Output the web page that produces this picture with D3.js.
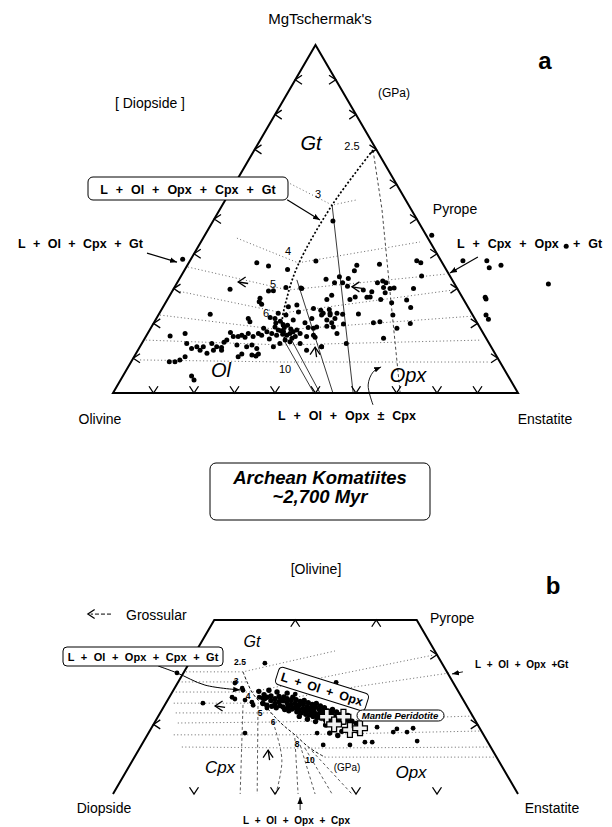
<!DOCTYPE html>
<head>
  <meta charset="utf-8">
  <script src="https://d3js.org/d3.v7.min.js"></script>
  <style>
    body { margin:0; background:white; }
    text { font-family: 'Liberation Sans', Arial, sans-serif; fill: black; }
    .lab { font-size: 14px; }
    .phase { font-weight: bold; }
    .field { font-style: italic; font-size: 20px; }
    .press { font-size: 11px; }
  </style>
</head>
<body>
<script>
// ---------- data: positions in % of triangle base (x) and % of full height (y) ----------

// panel a : projection from Diopside
const triA = [[0,0],[50,100],[100,0]];
const komA = [
  [17.2,38.4],[35.5,37.4],[38.4,36.5],[43.1,35.5],[50.1,37.9],[54.3,49.4],[28.9,29.8],[36.3,27.2],[36.1,26.2],
  [38.4,29.3],[39.6,29.4],[42.7,30.3],[46.4,30.2],[24.0,22.6],[33.4,21.4],[33.8,20.5],[36.7,25.5],[38.8,21.7],
  [40.8,22.9],[42.7,22.4],[43.3,24.8],[45.4,25.3],[45.8,23.3],[44.5,21.0],[14.1,16.4],[17.8,17.1],[18.2,14.2],
  [20.7,13.3],[22.3,13.3],[24.4,14.2],[25.6,13.3],[26.8,13.1],[28.1,15.2],[29.7,16.2],[30.9,16.2],[31.8,16.6],
  [33.4,17.1],[34.6,16.2],[35.9,17.1],[38.0,17.6],[40.0,19.0],[40.8,18.1],[42.1,17.6],[42.9,16.6],[44.5,17.6],
  [46.2,17.1],[47.8,16.2],[50.3,19.0],[51.9,22.9],[53.6,22.4],[54.4,19.0],[19.4,12.8],[21.5,12.3],[30.6,13.8],
  [33.0,13.3],[35.5,12.8],[39.6,13.3],[42.5,15.2],[45.0,16.2],[51.5,13.3],[13.9,9.0],[15.3,9.0],[16.5,9.5],
  [17.8,10.4],[30.9,10.4],[31.8,11.2],[34.3,10.9],[35.3,10.6],[35.9,11.2],[19.4,4.9],[20.0,3.7],[41.2,14.2],
  [43.7,14.7],[32.6,16.0],[36.7,16.6],[39.2,17.1],[43.7,17.1],[45.4,18.1],[43.1,19.5],[52.8,21.0],[55.3,17.1],
  [34.3,13.8],[26.8,12.3],[24.8,12.3],[47.8,12.3],[46.2,14.2],[40.0,21.4],[41.5,17.9],[42.3,18.8],[43.9,18.4],
  [41.9,16.9],[44.2,15.7],[40.4,16.6],[37.2,18.6],[38.6,15.5],[29.0,17.4],[27.4,14.6],[23.2,11.4],[40.2,20.1],
  [41.3,20.6],[42.0,19.7],
  [78.7,45.3],[86.4,38.0],[92.3,38.0],[92.9,36.0],[95.8,36.7],[107.5,31.3],[91.9,27.5],[92.1,27.0],[92.1,22.4],
  [92.7,21.2],[60.2,36.7],[59.6,35.1],[65.8,37.0],[75.0,38.0],[76.0,37.4],[76.2,33.6],[52.6,32.7],[54.7,31.7],
  [55.9,33.4],[56.7,31.7],[58.1,32.9],[57.9,30.7],[61.8,29.6],[65.3,31.7],[66.6,32.2],[67.4,31.7],[66.8,30.3],
  [68.4,30.0],[69.4,30.2],[67.2,28.8],[63.9,29.1],[63.5,27.6],[74.2,30.0],[72.5,26.7],[73.5,24.6],[68.8,25.9],
  [69.1,22.4],[66.1,26.9],[62.7,27.5],[59.8,27.6],[58.5,26.9],[54.0,28.1],[52.8,26.9],[49.5,24.3],[51.3,23.8],
  [53.4,24.0],[53.6,22.9],[55.3,22.9],[56.7,22.6],[54.8,21.4],[54.0,20.2],[52.8,19.2],[51.5,22.4],[49.1,21.4],
  [47.4,20.2],[48.2,18.8],[49.5,16.6],[49.9,16.0],[51.5,13.3],[56.9,19.8],[60.6,22.7],[64.3,20.2],[65.9,20.5],
  [70.1,18.6],[66.8,15.7],[73.4,20.0],[57.6,14.2],[46.6,30.0],[49.5,18.6],[111.9,42.2]
];
// isobars (GPa), dotted
const isobarsA = [
  [[43.0,60.6],[54.1,54.0],[60.2,55.5]],
  [[30.6,44.5],[45.7,37.4],[75.8,43.4]],
  [[18.5,36.2],[43.2,29.6],[82.5,34.2]],
  [[14.8,29.6],[42.0,23.0],[84.0,29.6]],
  [[11.6,22.4],[41.7,18.1],[88.9,22.1]],
  [[8.1,15.2],[42.0,13.8],[90.9,15.2]],
  [[6.7,9.5],[42.5,8.9],[92.6,8.9]]
];
const cotecticA = [[64.2,69.8],[54.1,54.0],[45.7,36.8],[43.0,27.6],[41.7,19.5],[42.5,15.2]];
const dashedA = [[[64.2,69.8],[66.4,52.9],[68.6,26.7],[70.9,0]]];
const solidA = [
  [[54.1,54.0],[59.3,0]],
  [[45.4,32.5],[54.3,0]],
  [[42.2,15.2],[49.6,0]],
  [[43.7,16.1],[51.1,0]]
];
const hookA = [[64.2,-3.4],[63.0,2.3],[64.2,6.0],[66.2,7.5]];
const leadersA = [
  [[43.0,55.5],[51.1,49.7]],
  [[8.4,40.2],[15.8,37.6]],
  [[90.1,39.1],[83.2,34.5]]
];
const fieldArrowsA = [[30.9,31.9,'left'],[49.9,13.2,'up'],[59.0,30.5,'left']];
const ticksA = [10,20,30,40,50,60,70,80,90];

// panel b : projection from Olivine
const trapB = [[0,0],[25,50],[75,50],[100,0]];
const clusterB = [
  [37,27.5],[37,26.0],[37.3,28.5],[38,27.8],[38,25.5],[39,26.9],[39,28.2],[39.2,25.2],[40,27.4],[40,26.0],
  [40.3,24.8],[41,28.0],[41,26.5],[41.2,25.4],[41.5,27.1],[42,26.8],[42,25.0],[42.2,27.9],[42.4,24.3],[43,26.2],
  [43,27.4],[43.2,25.1],[43.4,23.9],[44,26.9],[44,25.6],[44.2,24.4],[44.4,27.8],[45,26.0],[45,24.8],[45.2,27.1],
  [45.4,23.6],[45.6,25.4],[46,25.5],[46,24.2],[46.2,26.6],[46.4,23.3],[47,25.9],[47,24.6],[47.2,26.9],[47.4,23.8],
  [47.6,22.9],[48,25.1],[48,24.0],[48.2,26.2],[48.4,22.7],[49,24.6],[49,23.4],[49.2,25.7],[49.4,22.3],[49.6,24.0],
  [50,24.9],[50,23.1],[50.2,26.0],[50.4,22.0],[51,24.2],[51,23.0],[51.2,25.3],[51.4,21.8],[52,23.7],[52,22.5],
  [52.2,24.8],[52.4,21.4],[53,23.9],[53,22.2],[53.2,21.0],[54,23.2],[54,21.9],[54.2,24.3],[55,22.5],[55,21.3],
  [55.2,23.6],[56,22.8],[56,21.0],[57,22.0],[57,20.6],[58,21.4],[58,22.6],[59,20.9],[60,20.3],[61,19.8],
  [36,29.5],[38.5,29.8],[40.5,29.3],[43,29.0],[50,20.8],[52.5,19.8],[54.5,19.0],[56.5,18.0],[48,21.5],[46,22.3],
  [53.5,17.5],[55.5,16.8]
];
const scatterB = [
  [37.5,37.6],[55.1,32.1],[30.1,31.9],[31.9,30.4],[32.1,29.8],[29.4,27.8],[30.1,27.3],[22.2,26.1],[32.6,27.0],
  [34.3,26.4],[34.6,25.5],[36.1,27.8],[37.5,27.3],[37.0,26.1],[38.0,24.7],[45.0,28.7],[32.6,17.5],[50.4,17.5],
  [65.2,19.2],[62.2,14.9],[58.5,14.1],[69.2,17.8],[70.1,18.7],[72.6,17.8],[74.1,18.9],[75.1,15.2],[64.0,14.9],
  [51.9,14.1],[15.8,34.8]
];
const peridotiteB = [[52.8,22.2],[56.9,22.2],[58.5,18.4],[61.0,18.9],[54.6,20.0]];
const boundaryB = [[32.1,35.1],[33.1,32.2],[34.3,29.3],[35.8,27.0],[38.0,24.7],[40.0,22.1],[42.0,19.8],[44.9,17.0],[48.6,13.2],[52.3,10.6]];
const isobarsB = [
  [[18.0,35.1],[32.1,35.1],[54.8,41.1]],
  [[16.1,32.2],[33.1,32.2]],
  [[15.5,29.3],[34.3,29.3],[52.3,33.6],[79.0,39.9]],
  [[15.0,26.1],[36.8,26.1],[59.3,30.7],[83.2,34.8]],
  [[15.5,23.3],[39.3,23.3]],
  [[16.0,20.4],[42.0,20.7],[88.9,22.4]],
  [[15.0,17.0],[44.9,17.0],[90.9,18.1]],
  [[17.0,13.5],[48.6,13.2],[93.1,13.5]],
  [[52.3,10.6],[94.8,10.6]]
];
const fansB = [
  [[32.1,25.6],[31.4,0]],
  [[35.8,25.3],[35.6,0]],
  [[39.5,20.7],[41.7,9.8],[40.2,0]],
  [[44.9,16.1],[45.7,0]],
  [[46.2,14.1],[49.9,0]],
  [[47.4,13.2],[54.1,0]],
  [[49.1,12.4],[59.0,0]]
];
const leaderB = [[11.1,36.8],[15.8,34.8],[22.7,31.3],[31.4,29.9]];
const arrowsB = [
  [[86.4,35.1],[83.7,34.5]],
  [[46.2,-4.6],[46.2,-0.9]]
];
const fieldArrowsB = [[25.2,25.3,'left'],[38.3,12.6,'up']];
const ticksBbase = [20,40,60,80];
const ticksBtop = [45,65];
const ticksBside = [20,40];

// ---------- drawing ----------
const svg = d3.select('body').append('svg').attr('width', 612).attr('height', 827);

const x = d3.scaleLinear().domain([0,100]).range([113,518]);
const yA = d3.scaleLinear().domain([0,100]).range([393,45]);
const yB = d3.scaleLinear().domain([0,100]).range([794,446]);

const defs = svg.append('defs');
defs.append('marker').attr('id','arr').attr('viewBox','0 0 10 10')
  .attr('refX',10).attr('refY',5).attr('markerWidth',7).attr('markerHeight',7)
  .attr('orient','auto').attr('markerUnits','userSpaceOnUse')
  .append('path').attr('d','M0,1 L10,5 L0,9 Z').attr('fill','black');

function panel(yS, name) {
  const g = svg.append('g').attr('class', name);
  const line = d3.line().x(d => x(d[0])).y(d => yS(d[1]));
  const smooth = d3.line().x(d => x(d[0])).y(d => yS(d[1])).curve(d3.curveCatmullRom);
  return {g, line, smooth};
}

function chevron(g, px, py, dir, s) {
  s = s || 4.5;
  const d = {
    down: `M${px-s},${py-s*1.5}L${px},${py}L${px+s},${py-s*1.5}`,
    up: `M${px-s},${py+s*1.5}L${px},${py}L${px+s},${py+s*1.5}`,
    left: `M${px+s*1.5},${py-s}L${px},${py}L${px+s*1.5},${py+s}`,
    right: `M${px-s*1.5},${py-s}L${px},${py}L${px-s*1.5},${py+s}`
  }[dir];
  g.append('path').attr('d', d).attr('fill','none').attr('stroke','black').attr('stroke-width',1.3);
}

function fieldArrow(g, px, py, dir) {
  chevron(g, px, py, dir, 5);
  const t = dir === 'left' ? `M${px},${py}L${px+10},${py+1.5}` : `M${px},${py}L${px+1.5},${py+10}`;
  g.append('path').attr('d', t).attr('stroke','black').attr('stroke-width',1.3);
}

function dots(g, data, yS, r) {
  g.append('g').selectAll('circle').data(data).join('circle')
    .attr('cx', d => x(d[0])).attr('cy', d => yS(d[1])).attr('r', r).attr('fill','black');
}

function txt(g, s, px, py, cls, anchor, extra) {
  const t = g.append('text').attr('x', px).attr('y', py).attr('class', cls || 'lab')
    .attr('text-anchor', anchor || 'start').text(s);
  if (extra) Object.entries(extra).forEach(([k,v]) => t.style(k, v));
  return t;
}

function box(g, x0, y0, w, h, r) {
  g.append('rect').attr('x', x0).attr('y', y0).attr('width', w).attr('height', h)
    .attr('rx', r).attr('fill','white').attr('stroke','black').attr('stroke-width',1);
}

// ===== panel a =====
{
  const {g, line, smooth} = panel(yA, 'panel-a');

  g.selectAll('.iso').data(isobarsA).join('path').attr('d', line)
    .attr('fill','none').attr('stroke','#555').attr('stroke-width',0.9).attr('stroke-dasharray','1,2.5');
  g.selectAll('.dsh').data(dashedA).join('path').attr('d', line)
    .attr('fill','none').attr('stroke','#333').attr('stroke-width',0.9).attr('stroke-dasharray','3,2.5');
  g.selectAll('.sol').data(solidA).join('path').attr('d', line)
    .attr('fill','none').attr('stroke','#222').attr('stroke-width',0.9);
  g.append('path').attr('d', smooth(cotecticA)).attr('fill','none')
    .attr('stroke','black').attr('stroke-width',1.7).attr('stroke-dasharray','2,2');

  dots(g, komA, yA, 2.5);

  g.append('path').attr('d', line(triA) + 'Z').attr('fill','none').attr('stroke','black').attr('stroke-width',2);
  ticksA.forEach(t => {
    chevron(g, x(t), yA(0), 'down');
    chevron(g, x(t/2), yA(t), 'left');
    chevron(g, x(100 - t/2), yA(t), 'right');
  });
  fieldArrowsA.forEach(d => fieldArrow(g, x(d[0]), yA(d[1]), d[2]));

  g.append('path').attr('d', smooth(hookA)).attr('fill','none').attr('stroke','black')
    .attr('stroke-width',0.9).attr('marker-end','url(#arr)');
  g.selectAll('.lead').data(leadersA).join('path').attr('d', line)
    .attr('stroke','black').attr('stroke-width',1.2).attr('marker-end','url(#arr)');

  box(g, 88, 177, 200, 23, 5);
  txt(g, 'L + Ol + Opx + Cpx + Gt', 188, 193.5, 'phase', 'middle', {'font-size':'12.5px','word-spacing':'4.5px'});
  txt(g, 'L + Ol + Cpx + Gt', 18, 248, 'phase', 'start', {'font-size':'12.5px','word-spacing':'4px'});
  txt(g, 'L + Cpx + Opx', 457, 248, 'phase', 'start', {'font-size':'12.5px','word-spacing':'4.5px'});
  txt(g, '+ Gt', 573, 248, 'phase', 'start', {'font-size':'12.5px','word-spacing':'4.5px'});
  txt(g, 'L + Ol + Opx ± Cpx', 278, 420, 'phase', 'start', {'font-size':'12.5px','word-spacing':'4.5px'});

  txt(g, "MgTschermak's", 320, 24, 'lab', 'middle', {'font-size':'15px'});
  txt(g, 'a', 545, 69, 'lab', 'middle', {'font-size':'24px','font-weight':'bold'});
  txt(g, '(GPa)', 394, 97, 'lab', 'middle', {'font-size':'12px'});
  txt(g, '[ Diopside ]', 150, 108, 'lab', 'middle');
  txt(g, 'Pyrope', 455, 214, 'lab', 'middle');
  txt(g, 'Olivine', 100, 424, 'lab', 'middle');
  txt(g, 'Enstatite', 545, 424, 'lab', 'middle');
  txt(g, 'Gt', 311, 150, 'field', 'middle');
  txt(g, 'Ol', 221, 377, 'field', 'middle');
  txt(g, 'Opx', 408, 382, 'field', 'middle');
  [['2.5',352,150],['3',318,198],['4',288,255],['5',273,288],['6',266,317],['10',285,373]]
    .forEach(d => txt(g, d[0], d[1], d[2], 'press', 'middle'));

  box(g, 210, 463, 220, 57, 6);
  txt(g, 'Archean Komatiites', 320, 484, 'lab', 'middle', {'font-size':'18.5px','font-weight':'bold','font-style':'italic'});
  txt(g, '~2,700 Myr', 320, 503, 'lab', 'middle', {'font-size':'18.5px','font-weight':'bold','font-style':'italic'});
}

// ===== panel b =====
{
  const {g, line, smooth} = panel(yB, 'panel-b');

  g.selectAll('.iso').data(isobarsB).join('path').attr('d', line)
    .attr('fill','none').attr('stroke','#555').attr('stroke-width',0.9).attr('stroke-dasharray','1,2.5');
  g.selectAll('.fan').data(fansB).join('path').attr('d', smooth)
    .attr('fill','none').attr('stroke','#333').attr('stroke-width',0.8).attr('stroke-dasharray','3,2.5');
  g.append('path').attr('d', smooth(boundaryB)).attr('fill','none')
    .attr('stroke','#111').attr('stroke-width',1).attr('stroke-dasharray','3,2');

  g.append('path').attr('d', smooth(leaderB)).attr('fill','none').attr('stroke','black')
    .attr('stroke-width',1).attr('marker-end','url(#arr)');
  g.selectAll('.arr').data(arrowsB).join('path').attr('d', line)
    .attr('stroke','black').attr('stroke-width',0.9).attr('marker-end','url(#arr)');

  dots(g, clusterB, yB, 2.7);
  dots(g, scatterB, yB, 2.4);
  g.selectAll('.perid').data(peridotiteB).join('path')
    .attr('d', d3.symbol(d3.symbolCross, 120))
    .attr('transform', d => `translate(${x(d[0])},${yB(d[1])})`)
    .attr('fill','#f0f0f0').attr('stroke','black').attr('stroke-width',1.3);

  g.append('path').attr('d', line(trapB)).attr('fill','none').attr('stroke','black').attr('stroke-width',2);
  ticksBbase.forEach(t => chevron(g, x(t), yB(0), 'down'));
  ticksBtop.forEach(t => chevron(g, x(t), yB(50), 'up'));
  ticksBside.forEach(t => {
    chevron(g, x(t/2), yB(t), 'left');
    chevron(g, x(100 - t/2), yB(t), 'right');
  });
  fieldArrowsB.forEach(d => fieldArrow(g, x(d[0]), yB(d[1]), d[2]));

  // Grossular direction
  g.append('path').attr('d', `M${x(-0.5)},${yB(51.7)}L${x(-5.5)},${yB(51.7)}`).attr('stroke','black')
    .attr('stroke-width',1).attr('stroke-dasharray','4,2');
  chevron(g, x(-6.2), yB(51.7), 'left', 4.5);

  box(g, 63, 647, 160, 19, 4);
  txt(g, 'L + Ol + Opx + Cpx + Gt', 143, 660.5, 'phase', 'middle', {'font-size':'11px','word-spacing':'3.5px'});
  const rot = g.append('g').attr('transform','translate(322,689) rotate(17.5)');
  rot.append('rect').attr('x',-47).attr('y',-9).attr('width',94).attr('height',18).attr('rx',4)
    .attr('fill','white').attr('stroke','black');
  rot.append('text').attr('x',0).attr('y',4.5).attr('text-anchor','middle').attr('class','phase')
    .style('font-size','12.5px').style('word-spacing','3px').text('L + Ol + Opx');
  box(g, 357, 710, 87, 11, 5.5);
  txt(g, 'Mantle Peridotite', 400, 719, 'phase', 'middle', {'font-size':'9.5px','font-style':'italic'});
  txt(g, 'L + Ol + Opx +Gt', 475, 668, 'phase', 'start', {'font-size':'10px','word-spacing':'3px'});
  txt(g, 'L + Ol + Opx + Cpx', 243, 824, 'phase', 'start', {'font-size':'10px','word-spacing':'3px'});

  txt(g, '[Olivine]', 316, 574, 'lab', 'middle');
  txt(g, 'b', 553, 594, 'lab', 'middle', {'font-size':'24px','font-weight':'bold'});
  txt(g, 'Grossular', 126, 620, 'lab', 'start');
  txt(g, 'Pyrope', 430, 623, 'lab', 'start');
  txt(g, 'Diopside', 104, 813, 'lab', 'middle');
  txt(g, 'Enstatite', 552, 813, 'lab', 'middle');
  txt(g, 'Gt', 252, 647, 'field', 'middle', {'font-size':'16px'});
  txt(g, 'Cpx', 220, 773, 'field', 'middle', {'font-size':'17px'});
  txt(g, 'Opx', 411, 778, 'field', 'middle', {'font-size':'17px'});
  txt(g, '(GPa)', 347, 771, 'lab', 'middle', {'font-size':'10px'});
  [['2.5',240,665],['3',236,684],['4',248,699],['5',260,716],['6',273,725],['8',297,747],['10',310,763]]
    .forEach(d => txt(g, d[0], d[1], d[2], 'press', 'middle', {'font-size':'8.5px','font-weight':'bold'}));
}
</script>
</body>
